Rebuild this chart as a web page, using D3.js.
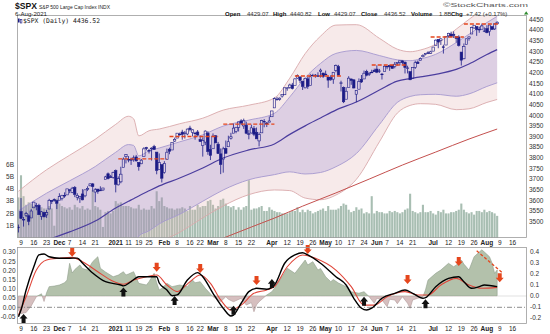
<!DOCTYPE html>
<html><head><meta charset="utf-8">
<script src="https://cdn.jsdelivr.net/npm/d3@7"></script>
<style>
body{margin:0;background:#fff;}
svg{display:block;font-family:"Liberation Sans",Arial,sans-serif;}
</style></head><body>
<svg id="c" width="550" height="334"></svg>
<script>
// ---------------- DATA ----------------
// trading-day index: 0 = 9 Nov 2020; first candle (6 Nov 2020) has index -1
const startIdx = -1;
const opens = [3473.3,
3548.0,3508.3,3528.2,3527.7,3517.6,3565.2,3575.3,3577.1,3524.4,3544.3,3531.8,3559.5,3600.5,3603.6,3599.2,
3600.9,3608.8,3623.3,3625.9,3649.7,3638.1,3660.9,3614.1,3611.1,3630.3,3621.4,3651.3,3668.7,3677.4,3639.3,3653.1,3648.4,3649.0,3698.0,3725.0,3711.2,3708.3,
3739.6,3673.0,3687.2,3754.7,3805.1,3793.1,3791.6,3792.2,3804.0,3778.7,3771.9,3806.2,3847.5,3834.2,3841.7,3853.0,3826.8,3745.8,3768.1,
3731.2,3791.8,3840.3,3836.7,3878.3,3892.6,3910.5,3920.8,3916.4,3911.7,3939.6,3918.5,3915.9,3921.2,3885.6,3857.1,3873.7,3915.8,3839.7,
3842.5,3903.6,3864.0,3818.5,3793.6,3844.4,3851.9,3892.0,3915.5,3924.5,3943.0,3973.6,3949.6,3953.5,3913.1,3916.5,3937.6,3919.9,3879.3,3917.1,3969.3,3963.3,3967.3,
3992.8,4034.4,4075.6,4074.3,4089.9,4096.1,4124.7,4130.1,4141.6,4139.8,4174.1,4179.8,4159.2,4128.4,4170.5,4138.8,4185.0,4188.3,4185.1,4206.1,4198.1,
4192.0,4179.0,4177.1,4169.1,4210.3,4228.3,4150.3,4130.6,4075.0,4129.6,4169.9,4165.9,4098.5,4122.0,4168.6,4170.2,4205.9,4191.6,4201.9,4210.8,
4216.5,4206.8,4191.4,4206.1,4229.3,4233.8,4233.0,4228.6,4242.9,4248.3,4255.3,4248.9,4220.4,4204.8,4173.4,4224.6,4249.3,4257.0,4274.5,4284.9,4293.2,4290.6,
4300.7,4326.6,4356.5,4351.0,4321.1,4329.4,4372.4,4381.1,4380.1,4369.0,4367.4,4296.4,4265.1,4331.1,4361.3,4381.2,4409.6,4416.4,4402.9,4403.6,4395.1,
4406.9,4392.7,4416.0,4405.0,4429.07];
const highs = [3486.6,
3611.0,3522.2,3546.2,3534.0,3558.7,3593.5,3588.1,3584.1,3550.2,3546.2,3554.8,3607.3,3600.5,3609.3,3599.2,
3633.5,3625.9,3637.7,3654.2,3652.4,3663.5,3667.4,3633.5,3620.9,3652.6,3650.3,3666.3,3680.1,3681.7,3657.9,3653.3,3666.2,3658.8,3715.5,3731.1,3719.6,3735.2,
3745.0,3712.8,3758.0,3801.6,3816.7,3807.9,3800.8,3811.0,3813.6,3778.7,3794.5,3849.8,3851.5,3842.3,3849.2,3860.9,3826.8,3820.5,3768.1,
3784.3,3843.1,3847.5,3872.4,3894.6,3915.8,3918.4,3931.5,3926.0,3937.2,3950.4,3933.6,3922.0,3930.4,3902.9,3896.0,3928.7,3925.0,3861.1,
3914.5,3906.4,3874.5,3843.7,3851.7,3881.1,3903.8,3917.4,3960.3,3945.0,3970.1,3981.0,3983.9,3969.6,3930.1,3955.3,3949.1,3942.1,3919.5,3978.2,3981.8,3968.0,3994.4,
4020.6,4083.4,4086.2,4083.1,4098.2,4129.5,4131.8,4148.0,4151.7,4173.5,4191.3,4180.8,4159.2,4175.0,4179.6,4194.2,4194.2,4193.3,4201.5,4218.8,4198.1,
4209.4,4179.0,4187.7,4202.7,4238.0,4236.4,4162.0,4134.7,4131.6,4183.1,4171.9,4169.1,4116.9,4172.8,4188.7,4209.5,4213.4,4202.6,4213.4,4218.4,
4234.1,4217.4,4198.2,4233.5,4232.3,4236.7,4237.1,4249.7,4248.4,4255.6,4257.2,4251.9,4232.3,4204.8,4226.2,4255.8,4256.6,4271.3,4286.1,4292.1,4300.5,4302.4,
4320.7,4355.4,4356.5,4361.9,4330.9,4372.0,4386.7,4392.4,4393.7,4369.0,4375.1,4296.4,4336.8,4359.7,4369.9,4415.2,4422.7,4416.4,4415.5,4430.0,4412.3,
4422.2,4423.8,4416.2,4430.0,4440.82];
const lows = [3449.3,
3512.5,3476.9,3522.0,3483.6,3517.6,3565.2,3553.7,3532.3,3508.8,3521.9,3517.8,3559.5,3582.8,3594.3,3559.4,
3600.9,3599.8,3612.2,3625.9,3633.9,3633.8,3615.5,3600.2,3588.4,3600.8,3614.6,3643.6,3665.9,3640.8,3591.5,3631.2,3644.3,3644.3,3698.0,3698.3,3705.2,3701.9,
3637.7,3670.1,3680.3,3754.7,3773.6,3779.0,3766.5,3781.5,3782.9,3739.6,3770.4,3806.2,3835.1,3820.4,3787.2,3837.8,3722.5,3745.8,3684.1,
3725.6,3791.8,3816.7,3836.7,3874.9,3892.6,3902.6,3884.9,3890.4,3905.8,3923.9,3900.4,3885.0,3903.1,3874.7,3805.6,3859.6,3814.0,3789.5,
3842.5,3868.6,3818.9,3723.3,3730.2,3819.3,3851.9,3885.7,3915.5,3915.2,3923.5,3953.4,3935.7,3910.9,3886.8,3914.2,3901.6,3889.1,3853.5,3917.1,3943.3,3944.4,3967.0,
3992.8,4034.4,4068.1,4068.3,4082.5,4095.5,4114.8,4124.4,4120.9,4139.8,4170.8,4150.5,4118.4,4126.4,4123.7,4138.8,4182.4,4176.2,4181.8,4176.8,4174.9,
4188.0,4128.6,4160.9,4147.3,4201.6,4188.1,4111.5,4056.9,4075.0,4129.6,4142.7,4126.0,4061.4,4122.0,4151.7,4170.2,4182.5,4184.1,4197.8,4203.6,
4197.6,4198.3,4167.6,4206.1,4215.7,4208.4,4218.7,4220.3,4233.0,4234.1,4238.4,4196.0,4196.1,4164.4,4173.4,4217.3,4241.4,4257.0,4271.2,4281.1,4287.0,4288.0,
4300.7,4326.6,4314.4,4329.8,4289.4,4329.4,4364.0,4366.9,4362.4,4340.7,4322.5,4233.1,4262.1,4331.1,4350.1,4381.2,4405.5,4372.5,4387.0,4403.6,4389.9,
4384.8,4373.0,4400.2,4400.2,4429.07];
const closes = [3474.4,
3515.5,3510.5,3537.7,3502.0,3550.2,3591.9,3574.5,3532.8,3546.9,3522.5,3542.6,3600.4,3594.7,3603.4,3586.6,
3617.5,3624.0,3621.7,3654.1,3647.0,3657.3,3627.8,3623.1,3618.5,3602.5,3649.6,3656.2,3677.5,3664.4,3649.9,3642.3,3645.0,3658.1,3710.4,3702.0,3707.0,3731.1,
3675.7,3701.9,3723.1,3793.8,3814.7,3789.6,3791.2,3799.8,3785.5,3758.3,3788.9,3841.9,3843.1,3831.5,3845.4,3839.6,3740.8,3777.4,3704.2,
3773.9,3826.3,3830.2,3871.7,3886.8,3915.6,3911.2,3909.9,3916.4,3934.8,3932.6,3931.3,3914.0,3906.7,3876.5,3881.4,3925.4,3829.3,3811.2,
3901.8,3870.3,3819.7,3768.5,3841.9,3821.4,3875.4,3898.8,3939.3,3943.3,3968.9,3962.7,3974.1,3915.5,3913.1,3940.6,3910.5,3889.1,3909.5,3974.5,3971.1,3958.6,3972.9,
4019.9,4077.9,4073.9,4080.0,4097.2,4128.8,4128.0,4141.6,4124.7,4170.4,4185.5,4163.3,4134.9,4173.4,4135.0,4180.2,4187.6,4186.7,4183.2,4211.5,4181.2,
4192.7,4164.7,4167.6,4201.6,4232.6,4188.4,4152.1,4063.0,4112.5,4173.9,4163.3,4127.8,4115.7,4159.1,4155.9,4197.1,4188.1,4196.0,4200.9,4204.1,
4202.0,4208.1,4192.9,4229.9,4226.5,4227.3,4219.6,4239.2,4247.4,4255.2,4246.6,4223.7,4221.9,4166.5,4224.8,4246.4,4241.8,4266.5,4280.7,4290.6,4291.8,4297.5,
4319.9,4352.3,4343.5,4358.1,4320.8,4369.6,4384.6,4369.2,4374.3,4360.0,4327.2,4258.5,4323.1,4358.7,4367.5,4411.8,4422.3,4401.5,4400.6,4419.2,4395.3,
4387.2,4423.2,4402.7,4429.1,4436.52];
// volume, billions
const volumes = [3.3,
5.1,3.4,2.7,2.9,2.8,2.6,2.5,2.6,2.5,2.4,2.4,2.6,2.4,1.0,3.2,
2.8,2.6,2.5,2.4,2.5,2.3,2.7,2.5,2.4,2.6,2.3,2.4,2.3,3.9,2.6,2.5,2.3,0.9,2.1,2.2,2.0,2.2,
3.0,2.8,2.9,2.6,2.6,2.6,2.5,2.4,2.4,2.7,2.3,2.4,2.3,2.3,2.6,2.4,3.8,3.0,3.3,
2.6,2.5,2.4,2.4,2.3,2.4,2.4,2.5,2.4,2.2,2.6,2.3,2.3,2.7,2.5,2.6,2.6,3.0,3.1,
2.7,2.4,2.6,3.1,3.2,2.8,2.6,2.5,2.6,2.3,2.5,2.3,2.5,2.6,4.7,2.3,2.4,2.4,2.5,2.6,2.2,2.2,2.5,
2.3,2.2,2.1,2.1,2.0,2.0,2.0,2.1,2.2,2.2,2.5,2.1,2.3,2.1,2.3,2.2,2.0,2.1,2.2,2.3,2.4,
2.2,2.6,2.3,2.3,2.3,2.4,2.6,2.8,2.7,2.3,2.1,2.2,2.5,2.3,2.4,2.0,2.1,2.0,3.4,2.0,
2.2,2.1,2.1,2.0,2.0,2.2,2.1,2.2,2.1,2.0,2.1,2.3,2.4,3.6,2.2,2.1,2.0,2.1,2.7,2.1,2.1,2.2,
2.0,1.9,2.2,2.1,2.3,2.0,2.0,2.1,2.1,2.2,2.3,2.8,2.3,2.1,2.0,2.1,1.9,2.2,2.2,2.1,2.3,
2.1,2.2,2.1,2.0,1.8];

// 50-day moving average and band sigma (price units), sampled
const bandIdx   = [-1,10,19,29,37,42,44,46,50,54,62,71,79,89,99,105,111,117,123,131,140,147,152,156,162,170,175,182,186];
const ma50      = [3367,3414,3452,3503,3564,3596,3608,3621,3645,3668,3705,3752,3799,3837,3865,3910,3950,3987,4024,4062,4118,4160,4172,4180,4192,4215,4240,4285,4308];
const bandSigma = [92,110,120,128,131,133,125,94,94,89,85,78,75,70,72,88,113,128,133,121,81,50,42,42,47,63,70,75,78];
// 200-day moving average, sampled
const ma200Idx = [70,79,90,99,110,123,136,149,162,175,186];
const ma200    = [3381,3423,3475,3517,3573,3635,3700,3766,3827,3888,3935];
// red dashed resistance lines
const resStart = [38,58,79,107,137,160,173];
const resEnd   = [57,77,99,125,151,173,187];
const resLevel = [3795,3900,3958,4184,4236,4367,4428];

// lower panel: oscillator (black), signal (red) on left axis, histogram area on right axis
const oscIdx  = [-1,0,2,5,7,9,11,15,19,22,24,28,33,39,40,43,46,50,53,54,57,59,61,65,69,71,75,79,82,83,86,89,92,96,99,103,107,110,112,117,123,127,130,133,135,137,141,146,150,153,157,158,162,167,171,173,176,179,181,186];
const oscVals = [-0.051,-0.015,0.094,0.22,0.284,0.289,0.274,0.266,0.266,0.267,0.24,0.186,0.139,0.121,0.116,0.139,0.166,0.166,0.166,0.132,0.094,0.063,0.067,0.148,0.188,0.166,0.076,-0.005,-0.047,-0.042,0.022,0.085,0.103,0.098,0.121,0.239,0.284,0.296,0.284,0.239,0.166,0.121,0.049,-0.005,-0.015,-0.005,0.049,0.076,0.094,0.076,0.049,0.052,0.112,0.157,0.166,0.139,0.103,0.112,0.121,0.112];
const sigIdx  = [-1,2,6,10,15,20,24,30,35,40,44,49,53,57,61,66,70,74,78,82,86,91,96,99,104,110,115,123,129,134,138,143,150,155,159,164,170,175,180,186];
const sigVals = [-0.042,0.057,0.202,0.257,0.266,0.271,0.247,0.193,0.148,0.125,0.148,0.166,0.175,0.121,0.085,0.139,0.175,0.13,0.04,-0.015,0.012,0.076,0.094,0.112,0.22,0.284,0.266,0.202,0.112,0.012,0.012,0.057,0.085,0.067,0.067,0.121,0.157,0.121,0.103,0.108];
const histIdx  = [-1,0,2,4,6,8,9,10,11,13,15,17,18,19,20,21,23,24,26,28,30,31,33,36,38,40,41,42,44,46,49,50,52,53,54,55,57,59,62,65,67,68,70,72,75,78,80,81,83,86,88,90,91,92,93,96,98,99,102,104,107,110,111,112,114,116,117,119,121,122,124,127,129,132,134,136,138,139,141,143,144,146,147,149,151,152,153,155,157,158,159,162,164,167,169,170,172,173,175,177,180,181,183,184,185,186];
const histVals = [-0.13,-0.16,-0.15,-0.09,-0.006,0.02,-0.05,0.03,0.085,0.09,0.1,0.12,0.145,0.297,0.209,0.24,0.282,0.25,0.236,0.312,0.357,0.252,0.218,0.175,0.19,0.221,0.191,0.2,0.221,0.115,0.1,0.13,0.206,0.12,0.055,0.07,0.115,0.085,0.1,0.085,0.145,0.12,0.13,0.07,-0.006,-0.052,-0.006,-0.03,-0.052,-0.021,-0.082,-0.06,-0.143,-0.08,-0.052,0.009,0.039,0.07,0.175,0.252,0.206,0.297,0.327,0.282,0.312,0.236,0.25,0.175,0.13,0.15,0.118,0.085,0.039,0.025,0.039,-0.006,-0.066,-0.02,-0.036,-0.097,-0.03,-0.036,-0.07,-0.006,-0.066,-0.112,-0.036,-0.02,-0.006,0.055,0.145,0.206,0.236,0.297,0.266,0.28,0.327,0.29,0.236,0.357,0.42,0.4,0.357,0.3,0.206,0.236];
const downArrowIdx = [20,53,70,92,112,151,171,187];
const downArrowVal = [0.274,0.193,0.186,0.121,0.289,0.126,0.224,0.136];
const upArrowIdx   = [1,40,60,83,98,134,158];
const upArrowVal   = [-0.036,0.108,0.061,0.009,0.153,0.057,0.043];
const trendIdx = [178,188];
const trendVal = [0.307,0.188];

// ticks
const tickIdx    = [0,5,10,15,19,24,29,37,42,46,50,56,61,66,70,75,80,85,90,98,104,109,114,119,124,129,134,139,143,148,153,161,167,172,177,182,187,192];
const tickLabels = ["9","16","23","Dec","7","14","21","2021","11","19","25","Feb","8","16","22","Mar","8","15","22","Apr","12","19","26","May","10","17","24","Jun","7","14","21","Jul","12","19","26","Aug","9","16"];
const priceTicks = [3500,3550,3600,3650,3700,3750,3800,3850,3900,3950,4000,4050,4100,4150,4200,4250,4300,4350,4400,4450];
const volTicks   = [1,2,3,4,5,6];
const oscTicks   = [-0.05,0,0.05,0.10,0.15,0.20,0.25,0.30];
const histTicks  = [-0.2,-0.1,0,0.1,0.2,0.3,0.4];

// ---------------- DRAWING ----------------
const svg = d3.select("#c");
const L=17, R=527, mT=15, mB=238, lT=247, lB=324;
const x  = d3.scaleLinear().domain([0,186]).range([21, 21+186*2.56]);
const yP = d3.scaleLinear().domain([3500,4400]).range([221.7,30]);
const yV = d3.scaleLinear().domain([0,6]).range([238,164.2]);
const yO = d3.scaleLinear().domain([0,0.3]).range([307.3,252]);
const yH = d3.scaleLinear().domain([0,0.4]).range([296,252]);

const defs = svg.append("defs");
defs.append("clipPath").attr("id","cm").append("rect").attr("x",L).attr("y",mT).attr("width",R-L).attr("height",mB-mT);
defs.append("clipPath").attr("id","cl").append("rect").attr("x",L).attr("y",lT).attr("width",R-L).attr("height",lB-lT);
defs.append("clipPath").attr("id","cpos").append("rect").attr("x",L).attr("y",lT).attr("width",R-L).attr("height",yH(0)-lT);
defs.append("clipPath").attr("id","cneg").append("rect").attr("x",L).attr("y",yH(0)).attr("width",R-L).attr("height",lB-yH(0));

svg.append("rect").attr("x",L).attr("y",mT).attr("width",R-L).attr("height",mB-mT).attr("fill","#fff");
svg.append("rect").attr("x",L).attr("y",lT).attr("width",R-L).attr("height",lB-lT).attr("fill","#fff");

const gm = svg.append("g").attr("clip-path","url(#cm)");

// volume
const vol = volumes.map((v,k)=>({i:k+startIdx, v}));
gm.selectAll("rect.vol").data(vol).enter().append("rect")
  .attr("x",d=>x(d.i)-1.05).attr("width",2.1)
  .attr("y",d=>yV(d.v)).attr("height",d=>yV(0)-yV(d.v))
  .attr("fill","#a8beb2");

// bands
const band = bandIdx.map((i,k)=>({i, m:ma50[k], s:bandSigma[k]}));
const cur = d3.curveMonotoneX;
const areaK = k => d3.area().x(d=>x(d.i)).y0(d=>yP(d.m-k*d.s)).y1(d=>yP(d.m+k*d.s)).curve(cur);
const lineK = k => d3.line().x(d=>x(d.i)).y(d=>yP(d.m+k*d.s)).curve(cur);
gm.append("path").attr("d",areaK(3)(band)).attr("fill","rgba(226,178,178,0.28)");
gm.append("path").attr("d",areaK(2)(band)).attr("fill","rgba(92,80,198,0.17)");
[3,-3].forEach(k=>gm.append("path").attr("d",lineK(k)(band)).attr("fill","none").attr("stroke","#d9a9ab").attr("stroke-width",0.9));
[2,-2].forEach(k=>gm.append("path").attr("d",lineK(k)(band)).attr("fill","none").attr("stroke","#a698cf").attr("stroke-width",0.9));
gm.append("path").attr("d",lineK(0)(band)).attr("fill","none").attr("stroke","#4b3d9e").attr("stroke-width",1.2);

// 200-day MA
const m200 = ma200Idx.map((i,k)=>({i, v:ma200[k]}));
gm.append("path").attr("d",d3.line().x(d=>x(d.i)).y(d=>yP(d.v)).curve(cur)(m200))
  .attr("fill","none").attr("stroke","#c4504e").attr("stroke-width",1);

// candles
const cd = closes.map((c,k)=>({i:k+startIdx, o:opens[k], h:highs[k], l:lows[k], c}));
const navy = "#1b1b86";
const cg = gm.append("g");
cg.selectAll("line.wu").data(cd).enter().append("line")
  .attr("x1",d=>x(d.i)).attr("x2",d=>x(d.i))
  .attr("y1",d=>yP(Math.max(d.h,d.o,d.c))).attr("y2",d=>yP(Math.max(d.o,d.c)))
  .attr("stroke",navy).attr("stroke-width",0.8);
cg.selectAll("line.wd").data(cd).enter().append("line")
  .attr("x1",d=>x(d.i)).attr("x2",d=>x(d.i))
  .attr("y1",d=>yP(Math.min(d.o,d.c))).attr("y2",d=>yP(Math.min(d.l,d.o,d.c)))
  .attr("stroke",navy).attr("stroke-width",0.8);
cg.selectAll("rect").data(cd).enter().append("rect")
  .attr("x",d=>x(d.i)-1.2).attr("width",2.4)
  .attr("y",d=>yP(Math.max(d.o,d.c)))
  .attr("height",d=>Math.max(0.6, Math.abs(yP(d.o)-yP(d.c))))
  .attr("fill",d=>d.c>=d.o?"none":navy)
  .attr("stroke",navy).attr("stroke-width",0.6);

// resistance lines
gm.selectAll("line.res").data(resLevel).enter().append("line")
  .attr("x1",(d,k)=>x(resStart[k])).attr("x2",(d,k)=>x(resEnd[k]))
  .attr("y1",d=>yP(d)).attr("y2",d=>yP(d))
  .attr("stroke","#e5461d").attr("stroke-width",1.4).attr("stroke-dasharray","4,2");

// legend
svg.append("rect").attr("x",18).attr("y",18.5).attr("width",1.6).attr("height",4).attr("fill",navy);
svg.append("rect").attr("x",20.3).attr("y",19.5).attr("width",1.6).attr("height",3.5).attr("fill","none").attr("stroke",navy).attr("stroke-width",0.6);
svg.append("text").attr("x",23).attr("y",23.3).text("$SPX (Daily) 4436.52")
  .attr("font-family","'DejaVu Sans Mono',monospace").attr("font-size",6.4).attr("fill","#222")
  .attr("textLength",77).attr("lengthAdjust","spacingAndGlyphs");

svg.append("rect").attr("x",L+0.5).attr("y",mT+0.5).attr("width",R-L-1).attr("height",mB-mT-1).attr("fill","none").attr("stroke","#9c9c9c").attr("stroke-width",0.8);

// ---- lower panel
const gl = svg.append("g").attr("clip-path","url(#cl)");
const hist = histIdx.map((i,k)=>({i, v:histVals[k]}));
const hArea = d3.area().x(d=>x(d.i)).y0(yH(0)).y1(d=>yH(d.v));
gl.append("g").attr("clip-path","url(#cpos)").append("path").attr("d",hArea(hist)).attr("fill","#b3c1ab").attr("stroke","#8f9d8b").attr("stroke-width",0.6);
gl.append("g").attr("clip-path","url(#cneg)").append("path").attr("d",hArea(hist)).attr("fill","#d6bfbf").attr("stroke","#b09a9a").attr("stroke-width",0.6);
gl.append("line").attr("x1",x(d3.max(histIdx))).attr("x2",R).attr("y1",yH(0)).attr("y2",yH(0)).attr("stroke","#d4d4d4").attr("stroke-width",0.7);
gl.append("line").attr("x1",L).attr("x2",R).attr("y1",yO(0)).attr("y2",yO(0))
  .attr("stroke","#707070").attr("stroke-width",0.8).attr("stroke-dasharray","5,2,1,2");

const osc = oscIdx.map((i,k)=>({i, v:oscVals[k]}));
const sig = sigIdx.map((i,k)=>({i, v:sigVals[k]}));
const oLine = d3.line().x(d=>x(d.i)).y(d=>yO(d.v)).curve(d3.curveMonotoneX);
gl.append("path").attr("d",oLine(sig)).attr("fill","none").attr("stroke","#e0463a").attr("stroke-width",1.1);
gl.append("path").attr("d",oLine(osc)).attr("fill","none").attr("stroke","#000").attr("stroke-width",1.4);

gl.append("line").attr("x1",x(trendIdx[0])).attr("x2",x(trendIdx[1])).attr("y1",yO(trendVal[0])).attr("y2",yO(trendVal[1]))
  .attr("stroke","#e5461d").attr("stroke-width",1.3).attr("stroke-dasharray","3,2");

function downArrow(cx, ty){
  return `M${cx-2},${ty-9}H${cx+2}V${ty-4.6}H${cx+4}L${cx},${ty}L${cx-4},${ty-4.6}H${cx-2}Z`;
}
function upArrow(cx, ty){
  return `M${cx-2},${ty+9}H${cx+2}V${ty+4.6}H${cx+4}L${cx},${ty}L${cx-4},${ty+4.6}H${cx-2}Z`;
}
svg.selectAll("path.da").data(downArrowIdx).enter().append("path")
  .attr("d",(d,k)=>downArrow(x(d), yO(downArrowVal[k]))).attr("fill","#e5461d");
svg.selectAll("path.ua").data(upArrowIdx).enter().append("path")
  .attr("d",(d,k)=>upArrow(x(d), yO(upArrowVal[k]))).attr("fill","#111");

svg.append("rect").attr("x",L+0.5).attr("y",lT+0.5).attr("width",R-L-1).attr("height",lB-lT-1).attr("fill","none").attr("stroke","#9c9c9c").attr("stroke-width",0.8);

// ---- axis labels
const fs = 6.5, tc = "#333";
svg.selectAll("text.py").data(priceTicks).enter().append("text")
  .attr("x",529).attr("y",d=>yP(d)+2.3).text(d=>d).attr("font-size",fs).attr("fill",tc);
svg.selectAll("text.vy").data(volTicks).enter().append("text")
  .attr("x",14).attr("y",d=>yV(d)+2.3).attr("text-anchor","end").text(d=>d+"B").attr("font-size",fs).attr("fill",tc);
svg.selectAll("text.oy").data(oscTicks).enter().append("text")
  .attr("x",15.5).attr("y",d=>yO(d)+2.3).attr("text-anchor","end").text(d=>d.toFixed(2)).attr("font-size",fs).attr("fill",tc);
svg.selectAll("text.hy").data(histTicks).enter().append("text")
  .attr("x",530).attr("y",d=>yH(d)+2.3).text(d=>d.toFixed(1)).attr("font-size",fs).attr("fill",tc);
const isBold = s => isNaN(+s) || s==="2021";
[245.3, 331.3].forEach(yy=>{
  svg.selectAll(null).data(tickIdx).enter().append("text")
    .attr("x",d=>x(d)).attr("y",yy).attr("text-anchor","middle")
    .text((d,k)=>tickLabels[k]).attr("font-size",fs)
    .attr("font-weight",(d,k)=>isBold(tickLabels[k])?"bold":"normal").attr("fill","#222");
});

// ---- header
svg.append("text").attr("x",15).attr("y",8.8).text("$SPX").attr("font-weight","bold").attr("font-size",8.6).attr("fill","#111")
  .attr("textLength",22).attr("lengthAdjust","spacingAndGlyphs");
svg.append("text").attr("x",39).attr("y",8.8).text("S&P 500 Large Cap Index INDX").attr("font-size",5.8).attr("fill","#222")
  .attr("textLength",71).attr("lengthAdjust","spacingAndGlyphs");
svg.append("text").attr("x",15).attr("y",15.6).text("6-Aug-2021").attr("font-size",5.6).attr("fill","#222")
  .attr("textLength",32).attr("lengthAdjust","spacingAndGlyphs");
svg.append("text").attr("x",443).attr("y",7.0).text("©StockCharts.com").attr("font-size",5.8).attr("fill","#555")
  .attr("textLength",85).attr("lengthAdjust","spacingAndGlyphs");
const hdr = [
  ["Open",225,true],["4429.07",247,false],["High",273,true],["4440.82",290,false],
  ["Low",318,true],["4429.07",334,false],["Close",361,true],["4436.52",384,false],
  ["Volume",411,true],["1.8B",439,false],["Chg",451,true],["+7.42 (+0.17%)",466,false]];
hdr.forEach(h=>svg.append("text").attr("x",h[1]).attr("y",15.6).text(h[0]).attr("font-size",6)
  .attr("font-weight",h[2]?"bold":"normal").attr("fill",h[2]?"#111":"#333"));
svg.append("path").attr("d","M524,14.4L526.2,11.2L528.4,14.4Z").attr("fill","#2e8b2e");
</script></body></html>
